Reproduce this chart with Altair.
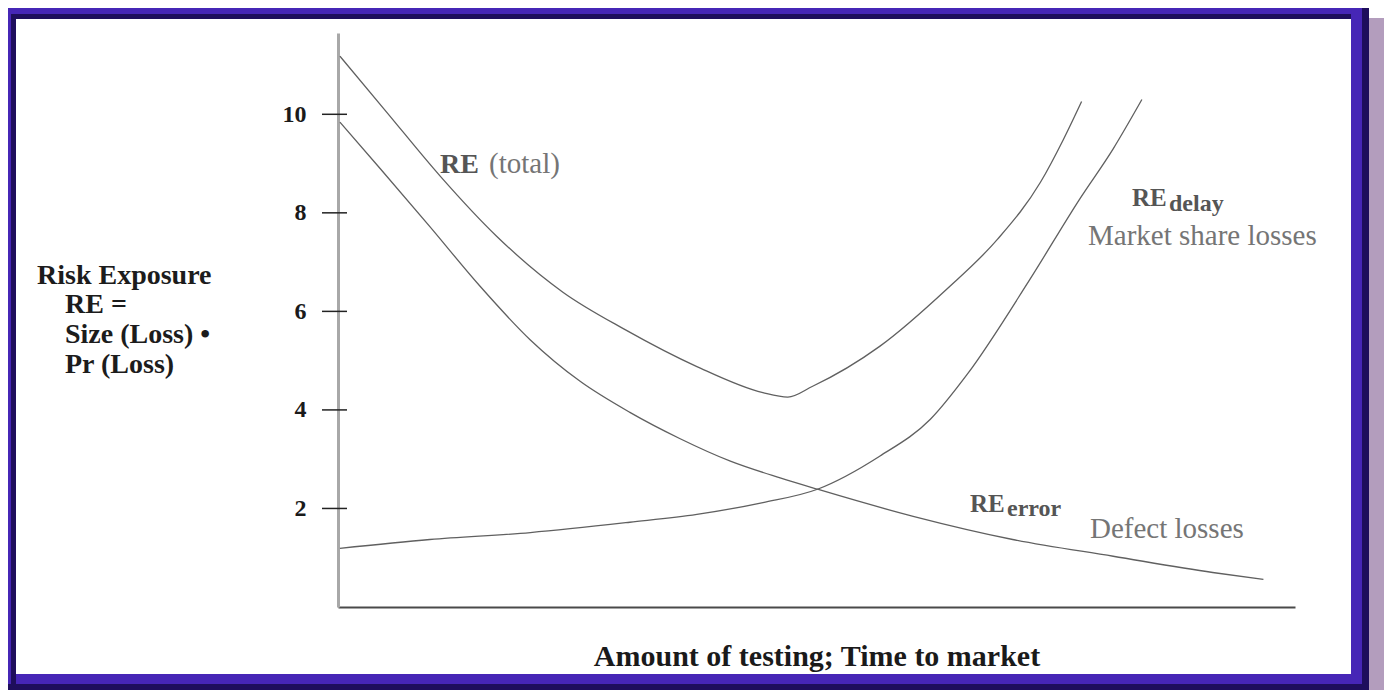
import altair as alt
import pandas as pd

# ---- data (x: 0..10 along "amount of testing", y: risk exposure) ----
total_x = [0.02, 0.51, 1.07, 1.66, 2.35, 3.00, 3.75, 4.44, 4.70, 4.96, 5.66, 6.36, 6.89, 7.34, 7.58, 7.77]
total_y = [11.18, 10.04, 8.74, 7.52, 6.39, 5.63, 4.88, 4.35, 4.26, 4.48, 5.29, 6.45, 7.46, 8.62, 9.49, 10.26]

error_x = [0.02, 0.44, 0.96, 1.48, 2.01, 2.53, 3.05, 3.57, 4.10, 4.62, 5.01, 6.01, 7.05, 8.10, 9.14, 9.67]
error_y = [9.84, 8.90, 7.72, 6.52, 5.42, 4.58, 3.95, 3.42, 2.96, 2.62, 2.39, 1.84, 1.37, 1.03, 0.70, 0.56]

delay_x = [0.02, 0.96, 2.01, 3.05, 3.75, 4.44, 5.01, 5.66, 6.19, 6.57, 7.23, 7.75, 8.10, 8.40]
delay_y = [1.19, 1.37, 1.51, 1.72, 1.88, 2.12, 2.39, 3.06, 3.81, 4.71, 6.65, 8.28, 9.30, 10.30]

y_ticks = [2, 4, 6, 8, 10]

series = [("RE (total)", total_x, total_y),
          ("RE error", error_x, error_y),
          ("RE delay", delay_x, delay_y)]
rows = []
for name, xs, ys in series:
    for xv, yv in zip(xs, ys):
        rows.append({"series": name, "x": xv, "y": yv})
curves = pd.DataFrame(rows)

# ---- layout ----
SERIF = "Liberation Serif"
X0, Y0 = 338, 33          # plot origin on the page
W, H = 957, 574


def px(X):
    return X - X0


def py(Y):
    return Y - Y0


one = pd.DataFrame({"k": [0]})

PURPLE = "#4626b6"
DARK = "#1e0e5c"
LILAC = "#b39dbd"


def band(x1, x2, y1, y2, color):
    return alt.Chart(one).mark_rect(color=color).encode(
        x=alt.value(px(x1)), x2=alt.value(px(x2)),
        y=alt.value(py(y1)), y2=alt.value(py(y2)))


frame = [
    band(1369, 1384, 18, 690, LILAC),
    band(8, 1369, 8, 14, PURPLE),          # top outer
    band(16, 1351, 14, 19, DARK),          # top inner
    band(8, 11, 8, 690, PURPLE),           # left outer
    band(11, 16, 14, 684, DARK),           # left inner
    band(1351, 1362, 14, 684, PURPLE),     # right inner
    band(1362, 1369, 8, 690, DARK),        # right outer
    band(16, 1362, 674, 684, PURPLE),      # bottom inner
    band(8, 1369, 684, 690, DARK),         # bottom outer
]

xscale = alt.Scale(domain=[0, 10], nice=False, zero=False)
yscale = alt.Scale(domain=[0, 11.65], nice=False)

lines = alt.Chart(curves).mark_line(
    interpolate="monotone", strokeWidth=1.3, color="#606060"
).encode(
    x=alt.X("x:Q", scale=xscale, axis=alt.Axis(
        title="Amount of testing; Time to market", labels=False, ticks=False,
        grid=False, domainColor="#4a4a4a", domainWidth=2,
        titleFont=SERIF, titleFontSize=30, titleFontWeight="bold",
        titleColor="#1a1a1a", titleY=58, titleBaseline="alphabetic")),
    y=alt.Y("y:Q", scale=yscale, axis=alt.Axis(
        values=y_ticks, title=None, ticks=False, grid=False,
        domainColor="#a8a8a8", domainWidth=3,
        labelFont=SERIF, labelFontSize=24, labelFontWeight="bold",
        labelColor="#1a1a1a", labelPadding=32)),
    detail="series:N",
)

ticks = alt.Chart(pd.DataFrame({"v": y_ticks})).mark_rule(
    color="#222222", strokeWidth=1.5
).encode(
    y=alt.Y("v:Q", scale=yscale),
    x=alt.value(px(322)), x2=alt.value(px(347)),
)


def label(text, X, Y, size, weight, color):
    return alt.Chart(pd.DataFrame({"t": [text]})).mark_text(
        align="left", baseline="alphabetic", font=SERIF, fontSize=size,
        fontWeight=weight, color=color
    ).encode(text="t:N", x=alt.value(px(X)), y=alt.value(py(Y)))


ANN_B = "#555555"
ANN_N = "#757575"
TXT = "#1c1c1c"

labels = [
    label("RE", 440, 173, 28, "bold", ANN_B),
    label("(total)", 489, 173, 29, "normal", ANN_N),
    label("RE", 1132, 206, 25, "bold", ANN_B),
    label("delay", 1169, 211, 24, "bold", ANN_B),
    label("Market share losses", 1088, 245, 29, "normal", ANN_N),
    label("RE", 970, 512, 25, "bold", ANN_B),
    label("error", 1007, 516, 24, "bold", ANN_B),
    label("Defect losses", 1090, 538, 29, "normal", ANN_N),
    label("Risk Exposure", 37, 284, 28, "bold", TXT),
    label("RE =", 65, 313, 28, "bold", TXT),
    label("Size (Loss) •", 65, 343, 28, "bold", TXT),
    label("Pr (Loss)", 65, 373, 28, "bold", TXT),
]

chart = alt.layer(*frame, lines, ticks, *labels).properties(
    width=W, height=H,
    padding={"left": 330, "top": 25, "right": 89, "bottom": 83},
    autosize=alt.AutoSizeParams(type="none"),
    background="white",
).configure_view(stroke=None)

chart.save("out.html", embed_options={"renderer": "svg", "actions": False})
